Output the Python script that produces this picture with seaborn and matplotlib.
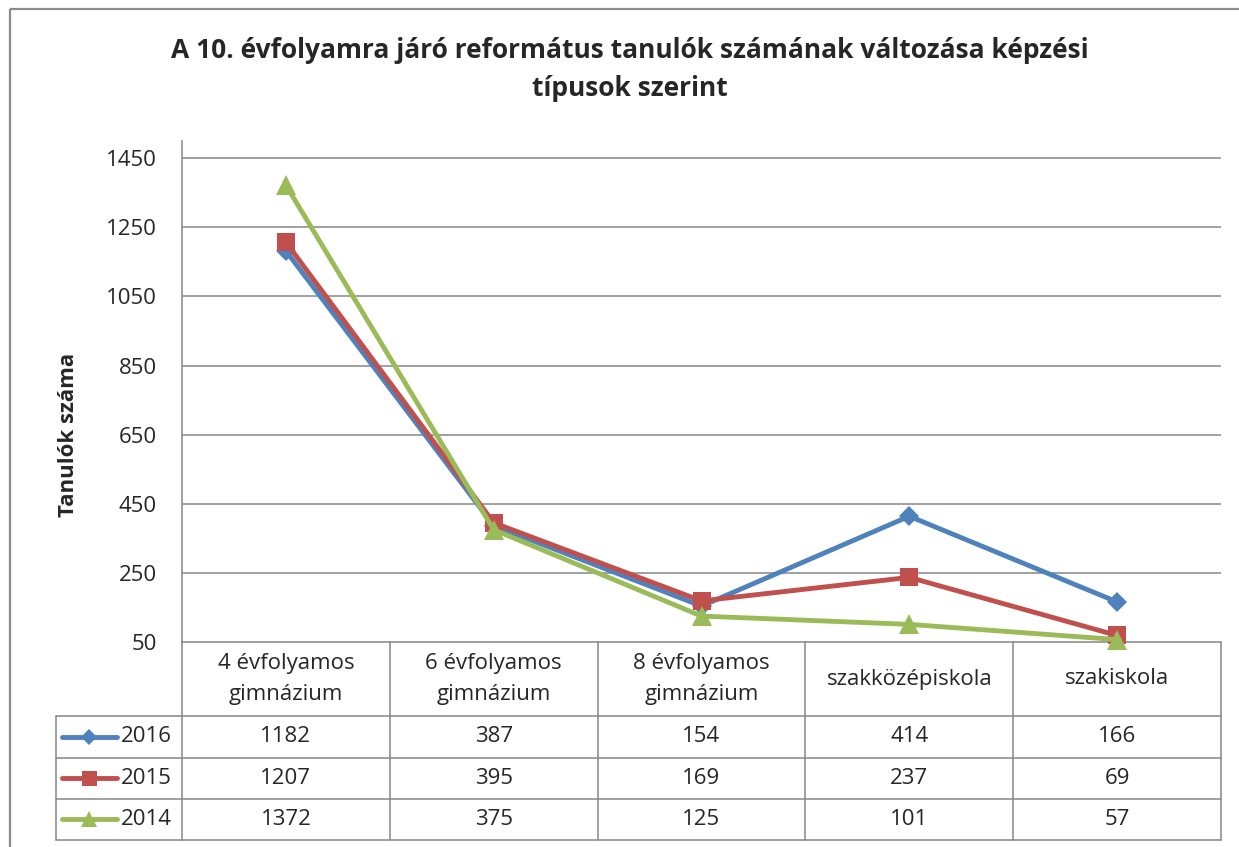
import numpy as np
import pandas as pd
import seaborn as sns
import matplotlib.pyplot as plt
from matplotlib.lines import Line2D
from matplotlib.patches import Rectangle
from matplotlib.transforms import blended_transform_factory

sns.set_style('white')
plt.rcParams['font.family'] = ['Open Sans', 'DejaVu Sans']

# data
categories = ['4 évfolyamos\ngimnázium', '6 évfolyamos\ngimnázium',
              '8 évfolyamos\ngimnázium', 'szakközépiskola', 'szakiskola']
years = ['2016', '2015', '2014']
v2016 = [1182, 387, 154, 414, 166]
v2015 = [1207, 395, 169, 237, 69]
v2014 = [1372, 375, 125, 101, 57]
yticks = [50, 250, 450, 650, 850, 1050, 1250, 1450]

values = {'2016': v2016, '2015': v2015, '2014': v2014}
colors = {'2016': '#4F81BD', '2015': '#C0504D', '2014': '#9BBB59'}
markers = {'2016': 'D', '2015': 's', '2014': '^'}
msizes = {'2016': 10, '2015': 13.5, '2014': 14}

rows = []
for y in years:
    for i, v in enumerate(values[y]):
        rows.append({'pos': i, 'year': y, 'n': v})
df = pd.DataFrame(rows)

W, H = 1239, 847
fig = plt.figure(figsize=(W / 100, H / 100), dpi=100)

# overlay axes in pixel coordinates for frame and table
ax_t = fig.add_axes([0, 0, 1, 1], zorder=0)
ax_t.set_xlim(0, W)
ax_t.set_ylim(H, 0)
ax_t.axis('off')

ax = fig.add_axes([182 / W, 1 - 642 / H, (1221 - 182) / W, (642 - 141) / H], zorder=2)
ax.patch.set_alpha(0)

grid_c = '#868686'
for y in years:
    sns.lineplot(data=df[df.year == y], x='pos', y='n', ax=ax, color=colors[y],
                 marker=markers[y], markersize=msizes[y], markeredgewidth=0,
                 linewidth=3.5, clip_on=False, zorder=5, legend=False)

ax.set_xlim(-0.5, len(categories) - 0.5)
ax.set_ylim(50, 1500)
ax.set_yticks(yticks)
ax.set_xticks([])
ax.set_xlabel('')
ax.set_ylabel('Tanulók száma', fontsize=16, fontweight='bold')
ax.yaxis.set_label_coords(-0.099, 0.413)
ax.tick_params(axis='y', length=0, pad=18, labelsize=16)
for yt in yticks[1:]:
    ax.axhline(yt, color=grid_c, lw=1.1, zorder=1)
for s in ['top', 'right', 'bottom']:
    ax.spines[s].set_visible(False)
ax.spines['left'].set_color(grid_c)
ax.spines['left'].set_linewidth(1.1)

# title
fig.text(630 / W, 1 - 50 / H, 'A 10. évfolyamra járó református tanulók számának változása képzési',
         ha='center', va='center', fontsize=19, fontweight='bold')
fig.text(630 / W, 1 - 88 / H, 'típusok szerint',
         ha='center', va='center', fontsize=19, fontweight='bold')

# outer frame
ax_t.add_patch(Rectangle((10, 9), 1260, 900, fill=False, ec='#8c8c8c', lw=1.6, clip_on=False))

# data table
tr = blended_transform_factory(ax.transData, ax_t.transData)
ncat = len(categories)
row_edges = [642, 716, 758, 799, 840]
lkw = dict(color=grid_c, lw=1.1, clip_on=False)
ax_t.plot([-0.5, ncat - 0.5], [row_edges[0]] * 2, transform=tr, **lkw)
for ry in row_edges[1:]:
    ax_t.plot([56, 182], [ry, ry], **lkw)
    ax_t.plot([-0.5, ncat - 0.5], [ry, ry], transform=tr, **lkw)
for i in range(ncat + 1):
    ax_t.plot([i - 0.5, i - 0.5], [642, 840], transform=tr, **lkw)
ax_t.plot([56, 56], [716, 840], **lkw)

for i, c in enumerate(categories):
    ax_t.text(i, 679, c, transform=tr, ha='center', va='center', fontsize=16,
              linespacing=1.6)

for r, y in enumerate(years):
    yc = (row_edges[r + 1] + row_edges[r + 2]) / 2
    for i, v in enumerate(values[y]):
        ax_t.text(i, yc, str(v), transform=tr, ha='center', va='center', fontsize=16)
    ax_t.add_line(Line2D([62, 117], [yc, yc], color=colors[y], lw=3.5,
                         solid_capstyle='round'))
    ax_t.add_line(Line2D([89], [yc], marker=markers[y], color=colors[y],
                         markersize=msizes[y] * 0.8, markeredgewidth=0))
    ax_t.text(121, yc, y, ha='left', va='center', fontsize=16)

fig.savefig('out.png', dpi=100)
